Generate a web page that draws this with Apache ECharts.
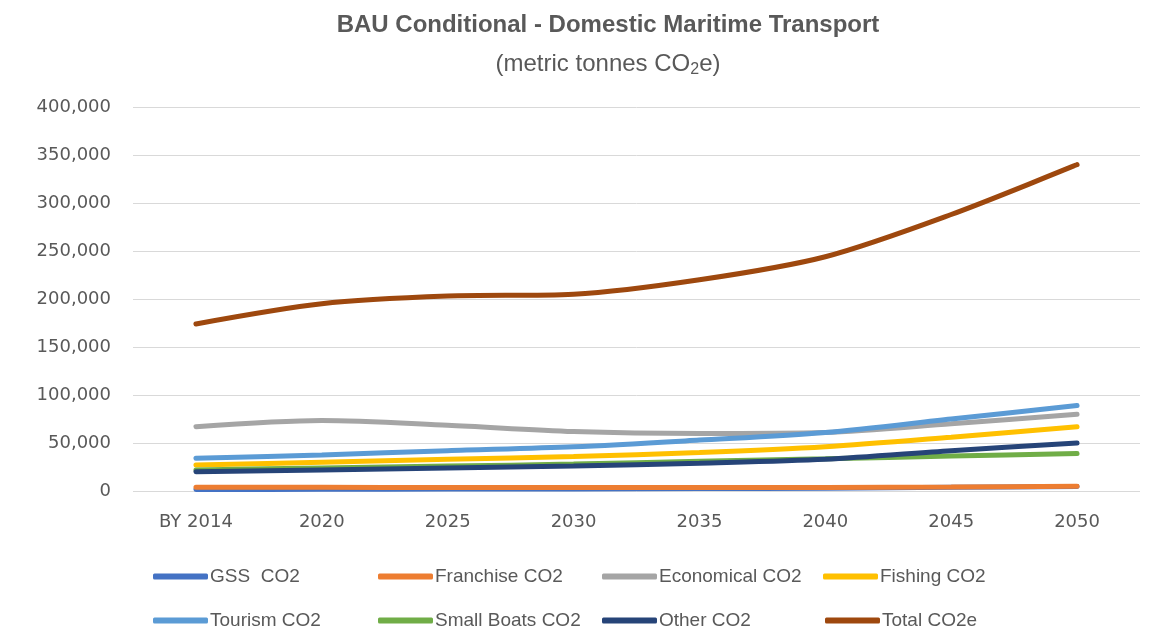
<!DOCTYPE html>
<html>
<head>
<meta charset="utf-8">
<script src="https://cdn.jsdelivr.net/npm/echarts@6/dist/echarts.min.js"></script>
<style>html,body{margin:0;padding:0;background:#fff}#c{width:1158px;height:632px}</style>
</head>
<body>
<div id="c"></div>
<script>
const categories = ['BY 2014','2020','2025','2030','2035','2040','2045','2050'];
const gss        = [1500, 1800, 2000, 2200, 2500, 2900, 3800, 4800];
const franchise  = [3800, 3800, 3700, 3600, 3600, 3700, 4200, 5000];
const economical = [67000, 73500, 68500, 62000, 60000, 61000, 70000, 80000];
const fishing    = [27000, 30000, 33000, 36000, 40000, 46000, 56000, 67000];
const tourism    = [34000, 37500, 42000, 46000, 53000, 61000, 75000, 89000];
const smallBoats = [22000, 24000, 26000, 28000, 31000, 33500, 36500, 39000];
const other      = [20000, 22000, 24000, 26000, 29000, 33000, 42000, 50000];
const total      = [174000, 195000, 203000, 205000, 220000, 244000, 288000, 340000];
const yTicks = {min: 0, max: 400000, interval: 50000};

const names = ['GSS  CO2','Franchise CO2','Economical CO2','Fishing CO2','Tourism CO2','Small Boats CO2','Other CO2','Total CO2e'];
const colors = ['#4472C4','#ED7D31','#A5A5A5','#FFC000','#5B9BD5','#70AD47','#264478','#9E480E'];
const datas = [gss, franchise, economical, fishing, tourism, smallBoats, other, total];
const font = '"Liberation Sans",sans-serif';
const axisFont = '"DejaVu Sans",sans-serif';

const legendPos = [[148,562],[373,562],[597,562],[818,562],[148,606],[373,606],[597,606],[820,606]];
const legends = names.map((n,i)=>({
  data:[n], left: legendPos[i][0], top: legendPos[i][1], icon:'roundRect',
  itemWidth:55, itemHeight:6, itemGap:0,
  textStyle:{fontFamily:font, fontSize:19, color:'#595959', padding:[0,0,0,-3]}
}));

const series = names.map((n,i)=>({
  name:n, type:'line', data:datas[i], smooth:0.3, symbol:'none',
  lineStyle:{width:5, color:colors[i], cap:'round'}, itemStyle:{color:colors[i]},
  z: i===1 ? 3 : 2
}));

const chart = echarts.init(document.getElementById('c'));
chart.setOption({
  animation:false,
  title:[{
    text:'BAU Conditional - Domestic Maritime Transport', left:603, textAlign:'center', top:8,
    textStyle:{fontFamily:font, fontSize:24, fontWeight:'bold', color:'#595959'}
  },{
    text:'(metric tonnes CO{s|2}e)', left:603, textAlign:'center', top:45,
    textStyle:{fontFamily:font, fontSize:24, fontWeight:'normal', color:'#595959',
      rich:{s:{fontFamily:font, fontSize:16, color:'#595959', verticalAlign:'bottom', padding:[12,0,0,0]}}}
  }],
  legend: legends,
  grid:{left:133, right:18, top:107, bottom:141},
  xAxis:{type:'category', data:categories, boundaryGap:true,
    axisLine:{show:false}, axisTick:{show:false},
    axisLabel:{fontFamily:axisFont, fontSize:18, color:'#595959', margin:22}},
  yAxis:{type:'value', min:yTicks.min, max:yTicks.max, interval:yTicks.interval,
    axisLine:{show:false}, axisTick:{show:false},
    splitLine:{lineStyle:{color:'#D9D9D9', width:1}},
    axisLabel:{fontFamily:axisFont, fontSize:18, color:'#595959', margin:22,
      formatter:v=>v.toLocaleString('en-US')}},
  series
});
</script>
</body>
</html>
